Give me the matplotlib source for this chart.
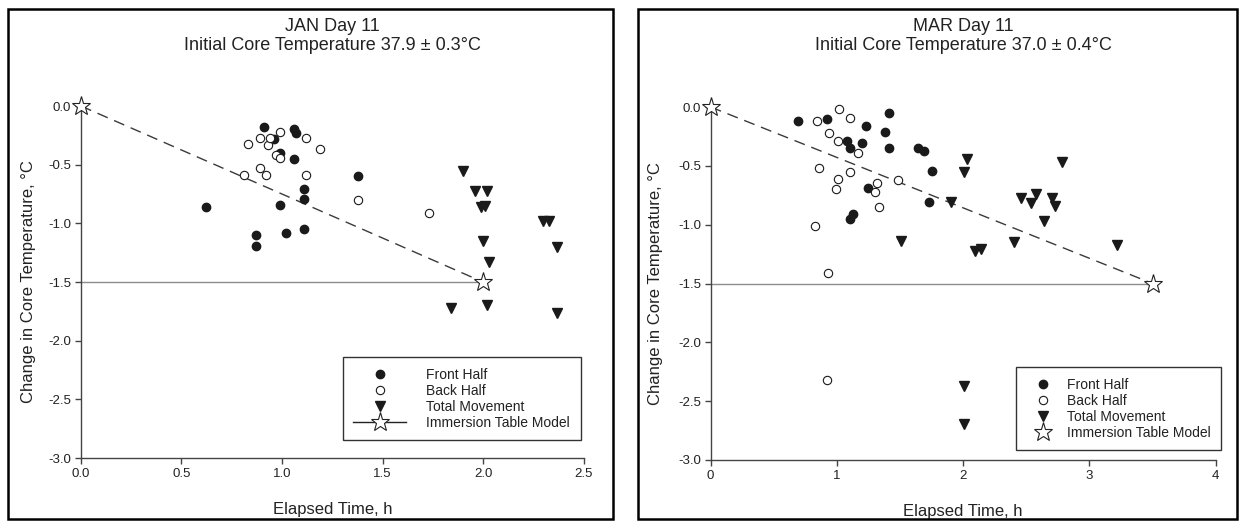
import numpy as np
import matplotlib
matplotlib.use("Agg")
import matplotlib.pyplot as plt
from matplotlib.lines import Line2D
from matplotlib.patches import Rectangle

plt.rcParams['font.family'] = ['Liberation Sans', 'DejaVu Sans']

# JAN day 11
jan_front_x = [0.62, 0.91, 0.96, 1.06, 1.07, 0.99, 1.06, 1.11, 1.11, 0.99, 0.87, 0.87, 1.02, 1.11, 1.38]
jan_front_y = [-0.86, -0.18, -0.28, -0.20, -0.23, -0.40, -0.45, -0.71, -0.79, -0.84, -1.10, -1.19, -1.08, -1.05, -0.60]
jan_back_x = [0.83, 0.89, 0.93, 0.94, 0.99, 1.12, 1.19, 0.97, 0.99, 0.89, 0.81, 0.92, 1.12, 1.38, 1.73]
jan_back_y = [-0.32, -0.27, -0.33, -0.27, -0.22, -0.27, -0.37, -0.42, -0.44, -0.53, -0.59, -0.59, -0.59, -0.80, -0.91]
jan_move_x = [1.90, 1.96, 2.02, 1.99, 2.01, 2.00, 2.03, 1.84, 2.02, 2.30, 2.33, 2.37, 2.37]
jan_move_y = [-0.55, -0.72, -0.72, -0.86, -0.85, -1.15, -1.33, -1.72, -1.70, -0.98, -0.98, -1.20, -1.76]
jan_model_x = [0.0, 2.0]
jan_model_y = [0.0, -1.5]

# MAR day 11
mar_front_x = [0.69, 0.92, 1.41, 1.23, 1.38, 1.08, 1.20, 1.10, 1.41, 1.64, 1.69, 1.75, 1.25, 1.73, 1.10, 1.13]
mar_front_y = [-0.12, -0.10, -0.05, -0.16, -0.21, -0.29, -0.31, -0.35, -0.35, -0.35, -0.37, -0.54, -0.69, -0.81, -0.95, -0.91]
mar_back_x = [1.02, 1.10, 0.84, 0.94, 1.01, 1.17, 0.86, 1.10, 1.01, 0.99, 1.32, 1.30, 1.48, 1.33, 0.83, 0.93, 0.92]
mar_back_y = [-0.02, -0.09, -0.12, -0.22, -0.29, -0.39, -0.52, -0.55, -0.61, -0.70, -0.65, -0.72, -0.62, -0.85, -1.01, -1.41, -2.32]
mar_move_x = [2.03, 2.01, 1.51, 1.90, 2.78, 2.46, 2.58, 2.54, 2.70, 2.73, 2.64, 2.40, 2.09, 2.14, 3.22, 2.01, 2.01]
mar_move_y = [-0.44, -0.55, -1.14, -0.81, -0.47, -0.77, -0.74, -0.82, -0.77, -0.84, -0.97, -1.15, -1.22, -1.21, -1.17, -2.37, -2.69]
mar_model_x = [0.0, 3.5]
mar_model_y = [0.0, -1.5]

labels = ['Front Half', 'Back Half', 'Total Movement', 'Immersion Table Model']

ink = '#1a1a1a'
axis_col = '#444444'


def draw_panel(ax, fx, fy, bx, by, mx, my, px, py, xmax, xticks, xticklabels):
    # reference line at the target drop and the model line
    ax.plot([0, px[1]], [py[1], py[1]], color='#8c8c8c', lw=1.0, zorder=1)
    ax.plot(px, py, color='#3a3a3a', lw=1.0, dashes=(8, 5), zorder=2)
    ax.plot(fx, fy, 'o', ms=6, mfc=ink, mec=ink, ls='none', zorder=3, clip_on=False)
    ax.plot(bx, by, 'o', ms=6, mfc='white', mec=ink, mew=0.8, ls='none', zorder=3, clip_on=False)
    ax.plot(mx, my, 'v', ms=6.5, mfc=ink, mec=ink, ls='none', zorder=3, clip_on=False)
    ax.plot(px, py, '*', ms=14, mfc='white', mec='#222222', mew=0.8, ls='none',
            zorder=5, clip_on=False)

    ax.set_xlim(0, xmax)
    ax.set_ylim(-3.0, 0.0)
    ax.set_xticks(xticks)
    ax.set_xticklabels(xticklabels)
    ax.set_yticks(np.arange(-3.0, 0.01, 0.5))
    ax.set_yticklabels(['%.1f' % v for v in np.arange(-3.0, 0.01, 0.5)])
    for s in ['top', 'right']:
        ax.spines[s].set_visible(False)
    for s in ['left', 'bottom']:
        ax.spines[s].set_color(axis_col)
        ax.spines[s].set_linewidth(1.0)
    ax.tick_params(direction='out', length=4, width=1.0, color=axis_col,
                   labelsize=9.5, labelcolor='#222222', pad=3)
    ax.set_xlabel('Elapsed Time, h', fontsize=12, color='#222222')
    ax.set_ylabel('Change in Core Temperature, \u00b0C', fontsize=12, color='#222222')
    ax.xaxis.set_label_coords(0.5, -0.125)
    ax.yaxis.set_label_coords(-0.09, 0.5)


fig = plt.figure(figsize=(12.4, 5.21), dpi=100)
ax1 = fig.add_axes([0.0653, 0.1209, 0.4053, 0.6756])
ax2 = fig.add_axes([0.5731, 0.1171, 0.4073, 0.6775])

draw_panel(ax1, jan_front_x, jan_front_y, jan_back_x, jan_back_y, jan_move_x, jan_move_y,
           jan_model_x, jan_model_y, 2.5, [0, 0.5, 1.0, 1.5, 2.0, 2.5],
           ['0.0', '0.5', '1.0', '1.5', '2.0', '2.5'])
draw_panel(ax2, mar_front_x, mar_front_y, mar_back_x, mar_back_y, mar_move_x, mar_move_y,
           mar_model_x, mar_model_y, 4, [0, 1, 2, 3, 4], ['0', '1', '2', '3', '4'])
ax2.yaxis.set_label_coords(-0.094, 0.5)

# titles
fig.text(0.2677, 1 - 31 / 521, 'JAN Day 11', ha='center', va='baseline', fontsize=13, color='#222222')
fig.text(0.2677, 1 - 50 / 521, 'Initial Core Temperature 37.9 \u00b1 0.3\u00b0C', ha='center',
         va='baseline', fontsize=13, color='#222222')
fig.text(0.7767, 1 - 31 / 521, 'MAR Day 11', ha='center', va='baseline', fontsize=13, color='#222222')
fig.text(0.7767, 1 - 50 / 521, 'Initial Core Temperature 37.0 \u00b1 0.4\u00b0C', ha='center',
         va='baseline', fontsize=13, color='#222222')

# legends
def handles(star_line):
    h_front = Line2D([], [], marker='o', ms=6, mfc=ink, mec=ink, ls='none')
    h_back = Line2D([], [], marker='o', ms=6, mfc='white', mec=ink, mew=0.8, ls='none')
    h_move = Line2D([], [], marker='v', ms=6.5, mfc=ink, mec=ink, ls='none')
    if star_line:
        h_model = Line2D([], [], marker='*', ms=14, mfc='white', mec='#222222', mew=0.8,
                         color='#222222', lw=1.0)
    else:
        h_model = Line2D([], [], marker='*', ms=14, mfc='white', mec='#222222', mew=0.8, ls='none')
    return [h_front, h_back, h_move, h_model]


leg1 = fig.legend(handles(True), labels, loc='upper left',
                  bbox_to_anchor=(343 / 1240, 1 - 357.3 / 521), bbox_transform=fig.transFigure,
                  fontsize=10, frameon=True, fancybox=False, framealpha=1,
                  edgecolor='#333333', borderpad=0.75, handlelength=3.8, handletextpad=1.45,
                  labelspacing=0.15, borderaxespad=0)
leg1.get_frame().set_linewidth(1.0)
leg2 = fig.legend(handles(False), labels, loc='upper left',
                  bbox_to_anchor=(1016 / 1240, 1 - 367.3 / 521), bbox_transform=fig.transFigure,
                  fontsize=10, frameon=True, fancybox=False, framealpha=1,
                  edgecolor='#333333', borderpad=0.75, handlelength=2.4, handletextpad=0.5,
                  labelspacing=0.15, borderaxespad=0)
leg2.get_frame().set_linewidth(1.0)
for leg in (leg1, leg2):
    for t in leg.get_texts():
        t.set_color('#222222')

# panel borders
fig.patches.append(Rectangle((8 / 1240, 2 / 521), 605 / 1240, 510 / 521, transform=fig.transFigure,
                             fill=False, lw=1.8, ec='black'))
fig.patches.append(Rectangle((638 / 1240, 2 / 521), 599 / 1240, 510 / 521, transform=fig.transFigure,
                             fill=False, lw=1.8, ec='black'))

fig.savefig('out.png', dpi=100)
